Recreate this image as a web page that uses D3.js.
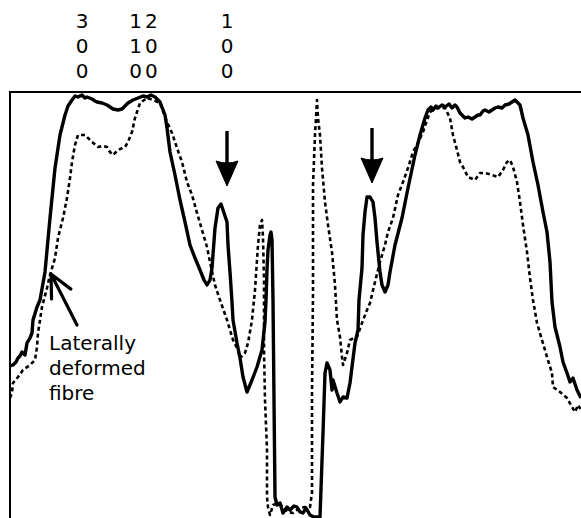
<!DOCTYPE html>
<html>
<head>
<meta charset="utf-8">
<script src="https://cdn.jsdelivr.net/npm/d3@7"></script>
<style>
  html, body { margin: 0; padding: 0; background: #fff; }
  svg { display: block; }
  text { font-family: "DejaVu Sans", sans-serif; fill: #000; }
</style>
</head>
<body>
<svg id="chart" width="581" height="518"></svg>
<script>
// Intensity profiles across the fibre cross-section: [scan position, intensity]
const referenceProfile = [
  [0,154],[3,155],[6,158],[8,162],[10,164],[12,168],[15,165],[17,177],[20,182],[22,187],
  [23,200],[27,213],[30,220],[35,248],[40,302],[45,352],[50,385],[55,405],[58,414],[62,420],
  [65,424],[68,423],[72,425],[75,422],[77,423],[82,421],[85,419],[87,418],[92,417],[97,415],[100,413],[103,411],[108,410],
  [112,411],[115,414],[118,417],[123,420],[128,422],[133,424],[137,423],[141,425],[145,423],[150,418],[155,405],
  [157,392],[160,368],[165,345],[170,320],[175,298],[180,275],[185,262],[190,250],[194,240],[197,235],
  [200,240],[202,252],[205,292],[208,312],[211,316],[213,310],[217,298],[218,275],[220,248],[222,218],
  [223,200],[227,177],[230,162],[233,143],[237,128],[242,140],[247,153],[252,170],[255,198],[256,220],
  [257,250],[258,270],[260,285],[261,288],[262,280],[263,220],[264,120],[265,23],[267,15],[270,17],
  [273,7],[277,13],[280,10],[284,14],[287,13],[290,8],[293,7],[296,12],[300,5],[304,3],
  [310,3],[313,87],[315,147],[317,157],[320,150],[322,130],[323,140],[327,127],[330,118],[333,123],
  [337,122],[340,137],[342,153],[345,177],[348,190],[349,220],[352,252],[353,285],[355,308],[357,323],
  [360,323],[363,318],[365,302],[367,278],[370,248],[372,235],[375,228],[378,235],[380,248],[385,275],
  [392,302],[398,332],[405,365],[410,385],[415,402],[418,410],[421,413],[423,410],[426,414],[428,412],[432,415],[435,413],
  [439,416],[442,412],[445,415],[447,413],[450,407],[452,405],[455,402],[458,403],[462,401],[465,403],[468,405],[470,405],[473,409],[475,410],
  [479,408],[482,410],[485,412],[488,413],[492,412],[495,415],[499,416],[502,418],[505,420],[507,418],[510,415],[513,402],[518,385],[523,358],[528,335],[533,308],[537,288],
  [540,258],[542,218],[545,193],[550,173],[553,158],[557,147],[560,138],[563,142],[567,130],[571,122]
];

const deformedProfile = [
  [0,122],[2,127],[3,137],[8,143],[13,150],[20,155],[25,160],[27,173],[28,187],[30,200],
  [32,213],[37,232],[40,245],[45,262],[48,282],[53,302],[57,322],[60,342],[62,358],[65,375],
  [68,385],[75,385],[82,378],[88,373],[93,374],[97,373],[100,368],[103,365],[108,370],[115,373],
  [118,378],[122,388],[125,402],[127,408],[130,417],[137,422],[143,420],[150,417],[157,398],[162,387],
  [167,372],[172,358],[177,338],[182,325],[187,307],[192,290],[197,273],[200,258],[205,235],[210,220],
  [217,200],[223,180],[228,170],[230,162],[235,167],[238,177],[242,200],[245,230],[248,275],[250,295],
  [252,300],[253,282],[254,240],[254,170],[255,120],[257,70],[257,23],[258,13],[260,5],[263,15],
  [268,17],[273,13],[278,8],[283,7],[287,10],[290,12],[295,13],[300,13],[302,27],[302,127],
  [303,227],[303,335],[305,385],[306,402],[307,420],[308,402],[310,385],[312,352],[315,318],[318,295],
  [322,268],[325,235],[327,200],[330,183],[332,163],[333,155],[337,167],[340,180],[344,182],[347,183],
  [352,197],[357,210],[360,217],[365,238],[370,258],[375,275],[378,288],[383,302],[388,325],[393,338],
  [398,352],[403,368],[408,377],[413,388],[417,400],[420,408],[427,412],[435,412],[440,402],[443,385],
  [447,370],[450,358],[453,353],[458,343],[465,340],[470,347],[475,347],[482,345],[488,343],[493,350],
  [497,358],[500,360],[503,353],[507,338],[510,318],[513,295],[517,268],[520,242],[523,220],[527,197],
  [532,180],[537,163],[542,147],[543,133],[550,128],[557,122],[562,113],[565,108],[568,115],[571,110]
];

// Stacked header labels and their scan positions
const headerPositions = [72, 135, 217];
const headerLabels = [["3", "0", "0"], ["12", "10", "00"], ["1", "0", "0"]];

// Marked peaks (downward arrows): scan position and intensity of the arrow tip
const peakArrows = [[217, 332], [362, 335]];

// Callout for the deformed fibre: arrow from tail to tip, label lines
const calloutTail = [67, 195];
const calloutTip = [41, 246];
const calloutLines = ["Laterally", "deformed", "fibre"];

const svg = d3.select("#chart");
const x = d3.scaleLinear().domain([0, 571]).range([10, 581]);
const y = d3.scaleLinear().domain([0, 427]).range([520, 93]);

// Frame: left and top edges only
svg.append("path")
  .attr("d", `M${x(0)},${y(-10)} V${y(428)} H${x(575)}`)
  .attr("fill", "none").attr("stroke", "#000").attr("stroke-width", 2);

const line = d3.line().x(d => x(d[0])).y(d => y(d[1]));

svg.append("path").datum(deformedProfile)
  .attr("d", line).attr("fill", "none").attr("stroke", "#000")
  .attr("stroke-width", 2.6).attr("stroke-dasharray", "4,3")
  .attr("stroke-linejoin", "round");

svg.append("path").datum(referenceProfile)
  .attr("d", line).attr("fill", "none").attr("stroke", "#000")
  .attr("stroke-width", 3.4).attr("stroke-linejoin", "round");

// Header labels, one stacked column per position
headerPositions.forEach((p, i) => {
  headerLabels[i].forEach((t, j) => {
    svg.append("text")
      .attr("x", x(p)).attr("y", 28 + j * 25)
      .attr("text-anchor", "middle")
      .attr("font-size", 20)
      .attr("letter-spacing", t.length > 1 ? 3 : 0)
      .text(t);
  });
});

// Downward arrows above the peaks
peakArrows.forEach(([p, v]) => {
  const tx = x(p), ty = y(v) - 2;
  svg.append("line")
    .attr("x1", tx).attr("x2", tx).attr("y1", ty - 55).attr("y2", ty - 18)
    .attr("stroke", "#000").attr("stroke-width", 3.4);
  svg.append("path")
    .attr("d", `M${tx},${ty} L${tx - 11},${ty - 25} Q${tx},${ty - 21} ${tx + 11},${ty - 25} Z`)
    .attr("fill", "#000").attr("stroke", "#000").attr("stroke-width", 1)
    .attr("stroke-linejoin", "round");
});

// Callout arrow with an open head
{
  const [x0, y0] = [x(calloutTail[0]), y(calloutTail[1])];
  const [x1, y1] = [x(calloutTip[0]), y(calloutTip[1])];
  const ang = Math.atan2(y0 - y1, x0 - x1);
  const len = 25, spread = 0.45;
  svg.append("path")
    .attr("d", `M${x0},${y0} L${x1},${y1}` +
      ` M${x1 + len * Math.cos(ang - spread)},${y1 + len * Math.sin(ang - spread)} L${x1},${y1}` +
      ` L${x1 + len * Math.cos(ang + spread)},${y1 + len * Math.sin(ang + spread)}`)
    .attr("fill", "none").attr("stroke", "#000").attr("stroke-width", 3.2)
    .attr("stroke-linecap", "round").attr("stroke-linejoin", "round");
  calloutLines.forEach((t, i) => {
    svg.append("text")
      .attr("x", x0 - 28).attr("y", y0 + 25 + i * 25)
      .attr("font-size", 20)
      .text(t);
  });
}
</script>
</body>
</html>
